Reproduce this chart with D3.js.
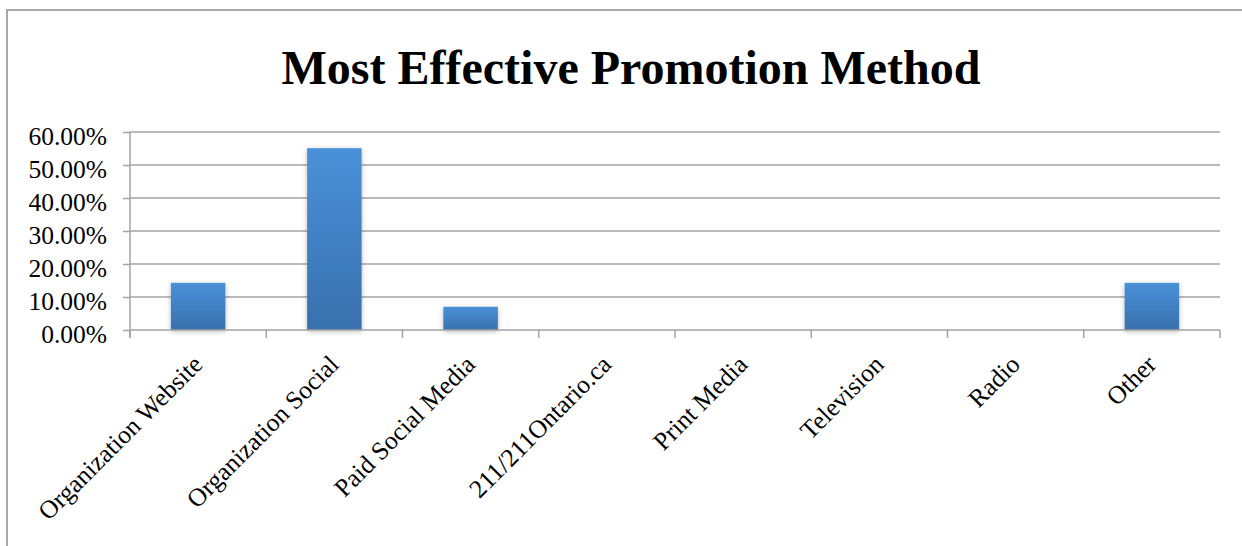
<!DOCTYPE html>
<html>
<head>
<meta charset="utf-8">
<script src="https://cdn.jsdelivr.net/npm/d3@7"></script>
<style>
  html, body { margin: 0; padding: 0; background: #fff; }
  svg { display: block; }
</style>
</head>
<body>
<svg id="chart" width="1242" height="546"></svg>
<script>
// Survey results: share of respondents naming each promotion method as most effective
const categories = ["Organization Website", "Organization Social", "Paid Social Media",
  "211/211Ontario.ca", "Print Media", "Television", "Radio", "Other"];
const shares = [0.1429, 0.5510, 0.0704, 0, 0, 0, 0, 0.1429];
const yTicks = [0, 0.1, 0.2, 0.3, 0.4, 0.5, 0.6];
const titleText = "Most Effective Promotion Method";

const svg = d3.select("#chart");
const W = 1242, H = 546;
const margin = { left: 130, right: 22, top: 132, bottom: 216 };
const serif = "'Liberation Serif', 'Times New Roman', serif";
const gridColor = "#a3a3a3";

// outer chart frame
svg.append("rect")
  .attr("x", 7).attr("y", 10).attr("width", W + 10).attr("height", H + 10)
  .attr("fill", "#fff").attr("stroke", "#a8a8a8").attr("stroke-width", 2);

// gradient fill and soft shadow for bars
const defs = svg.append("defs");
const grad = defs.append("linearGradient").attr("id", "barFill")
  .attr("x1", 0).attr("y1", 0).attr("x2", 0).attr("y2", 1);
grad.append("stop").attr("offset", "0%").attr("stop-color", "#4a91d9");
grad.append("stop").attr("offset", "100%").attr("stop-color", "#3870ad");
const shadow = defs.append("filter").attr("id", "barShadow")
  .attr("x", "-20%").attr("y", "-20%").attr("width", "140%").attr("height", "140%");
shadow.append("feDropShadow").attr("dx", 0).attr("dy", 1.5).attr("stdDeviation", 2.5)
  .attr("flood-color", "#000").attr("flood-opacity", 0.28);

const x = d3.scaleBand().domain(categories)
  .range([margin.left, W - margin.right]).paddingInner(0.6).paddingOuter(0.3);
const y = d3.scaleLinear().domain([0, 0.6]).range([H - margin.bottom, margin.top]);

// title
svg.append("text")
  .attr("x", 631).attr("y", 84)
  .attr("text-anchor", "middle")
  .attr("font-family", serif).attr("font-weight", "bold").attr("font-size", 48)
  .attr("fill", "#000")
  .text(titleText);

// horizontal gridlines
svg.append("g").selectAll("line").data(yTicks.slice(1)).join("line")
  .attr("x1", margin.left).attr("x2", W - margin.right)
  .attr("y1", d => y(d)).attr("y2", d => y(d))
  .attr("stroke", gridColor).attr("stroke-width", 1.5);

// y axis
const yAxis = d3.axisLeft(y).tickValues(yTicks)
  .tickFormat(d => (d * 100).toFixed(2) + "%").tickSize(7).tickPadding(16);
const gy = svg.append("g").attr("transform", `translate(${margin.left},0)`).call(yAxis);
gy.select(".domain").remove();
gy.append("line").attr("x1", 0).attr("x2", 0)
  .attr("y1", y(0.6)).attr("y2", y(0) + 8)
  .attr("stroke", gridColor).attr("stroke-width", 1.5);
gy.selectAll(".tick line").attr("stroke", gridColor).attr("stroke-width", 1.5);
gy.selectAll(".tick text")
  .attr("font-family", serif).attr("font-size", 25.5).attr("fill", "#000").attr("dy", "0.5em");

// bars
svg.append("g").selectAll("rect").data(categories).join("rect")
  .attr("x", d => x(d))
  .attr("width", x.bandwidth())
  .attr("y", (d, i) => y(shares[i]))
  .attr("height", (d, i) => y(0) - y(shares[i]))
  .attr("fill", "url(#barFill)")
  .attr("filter", (d, i) => shares[i] > 0 ? "url(#barShadow)" : null);

// x axis baseline with category dividers
const step = x.step();
const edges = d3.range(categories.length + 1).map(i => margin.left + i * step);
const gx = svg.append("g");
gx.append("line").attr("x1", margin.left).attr("x2", W - margin.right)
  .attr("y1", y(0)).attr("y2", y(0))
  .attr("stroke", gridColor).attr("stroke-width", 1.5);
gx.selectAll("line.div").data(edges).join("line").attr("class", "div")
  .attr("x1", d => d).attr("x2", d => d)
  .attr("y1", y(0)).attr("y2", y(0) + 8)
  .attr("stroke", gridColor).attr("stroke-width", 1.5);

// rotated category labels
gx.selectAll("text").data(categories).join("text")
  .attr("transform", d => `translate(${x(d) + x.bandwidth() / 2 + 6},${y(0) + 36}) rotate(-45)`)
  .attr("text-anchor", "end")
  .attr("font-family", serif).attr("font-size", 25.5).attr("fill", "#000")
  .text(d => d);
</script>
</body>
</html>
